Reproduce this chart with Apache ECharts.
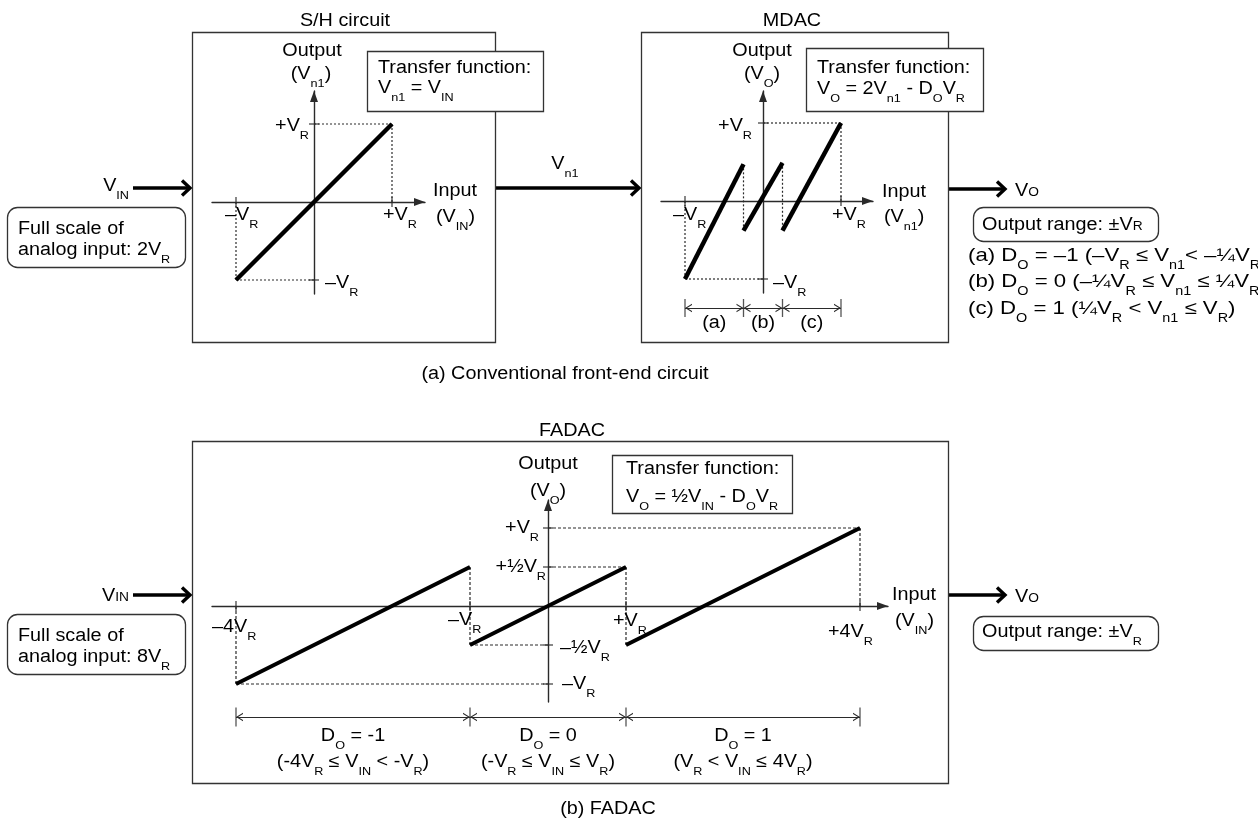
<!DOCTYPE html>
<html><head><meta charset="utf-8">
<script src="https://cdn.jsdelivr.net/npm/echarts@6/dist/echarts.min.js"></script>
<style>html,body{margin:0;padding:0;background:#fff}#c{width:1258px;height:820px}</style>
</head><body><div id="c"></div>
<script>
// ================= DATA (values in units of V_R) =================
// S/H circuit: V_n1 = V_IN
const shTransfer = [[-1, -1], [1, 1]];
const shGuides = [
  [[-1, -1], [-1, 0]], [[-1, -1], [0, -1]],
  [[1, 1], [0, 1]], [[1, 1], [1, 0]]
];
const shXTicks = [-1, 1];
const shXTickLabels = ['–V_{R}', '+V_{R}'];
const shYTicks = [-1, 1];
const shYTickLabels = ['–V_{R}', '+V_{R}'];

// MDAC: V_O = 2 V_n1 - D_O V_R
const mdacSegments = [
  [[-1, -1], [-0.25, 0.47]],
  [[-0.25, -0.38], [0.25, 0.49]],
  [[0.25, -0.38], [1, 1]]
];
const mdacGuides = [
  [[-1, -1], [-1, 0]], [[-1, -1], [0, -1]],
  [[1, 1], [0, 1]], [[1, 1], [1, 0]],
  [[-0.25, 0.47], [-0.25, -0.38]], [[0.25, 0.49], [0.25, -0.38]]
];
const mdacXTicks = [-1, 1];
const mdacXTickLabels = ['–V_{R}', '+V_{R}'];
const mdacYTicks = [-1, 1];
const mdacYTickLabels = ['–V_{R}', '+V_{R}'];
const mdacBreaks = [-1, -0.25, 0.25, 1];
const mdacRegionLabels = ['(a)', '(b)', '(c)'];
const mdacCodeLines = [
  '(a) D_{O} = –1 (–V_{R} ≤ V_{n1}< –¼V_{R})',
  '(b) D_{O} = 0 (–¼V_{R} ≤ V_{n1} ≤ ¼V_{R})',
  '(c) D_{O} = 1 (¼V_{R} < V_{n1} ≤ V_{R})'
];

// FADAC: V_O = 1/2 V_IN - D_O V_R
const fadacSegments = [
  [[-4, -1], [-1, 0.5]],
  [[-1, -0.5], [1, 0.5]],
  [[1, -0.5], [4, 1]]
];
const fadacGuides = [
  [[-4, -1], [-4, 0]], [[-4, -1], [0, -1]],
  [[-1, 0.5], [-1, -0.5]], [[-1, -0.5], [0, -0.5]],
  [[0, 0.5], [1, 0.5]], [[1, 0.5], [1, -0.5]],
  [[0, 1], [4, 1]], [[4, 1], [4, 0]]
];
const fadacXTicks = [-4, -1, 1, 4];
const fadacXTickLabels = ['–4V_{R}', '–V_{R}', '+V_{R}', '+4V_{R}'];
const fadacYTicks = [-1, -0.5, 0.5, 1];
const fadacYTickLabels = ['–V_{R}', '–½V_{R}', '+½V_{R}', '+V_{R}'];
const fadacBreaks = [-4, -1, 1, 4];
const fadacCodeLabels = ['D_{O} = -1', 'D_{O} = 0', 'D_{O} = 1'];
const fadacRangeLabels = ['(-4V_{R} ≤ V_{IN} < -V_{R})', '(-V_{R} ≤ V_{IN} ≤ V_{R})', '(V_{R} < V_{IN} ≤ 4V_{R})'];

// ================= LAYOUT =================
const P = {
  sh: {ox: 314, oy: 202, u: 78, x0: 212, x1: 425, y0: 91, y1: 294},
  md: {ox: 763, oy: 201, u: 78, x0: 661, x1: 873, y0: 91, y1: 293},
  fa: {ox: 548, oy: 606, u: 78, x0: 212, x1: 888, y0: 500, y1: 702}
};
const DIM = {md: 308, fa: 717};
const FONT = '"Liberation Sans", Arial, Helvetica, sans-serif';
const INK = '#000', LINE = '#2a2a2a';

function gridOf(p) { return {left: p.x0, top: p.y0, width: p.x1 - p.x0, height: p.y1 - p.y0, containLabel: false, outerBoundsMode: 'none'}; }
function dimGrid(p, yc) { return {left: p.x0, top: yc - 10, width: p.x1 - p.x0, height: 20, containLabel: false, outerBoundsMode: 'none'}; }
function xr(p) { return [(p.x0 - p.ox) / p.u, (p.x1 - p.ox) / p.u]; }
function yr(p) { return [(p.oy - p.y1) / p.u, (p.oy - p.y0) / p.u]; }
function axisOpt(idx, range, show) {
  return {
    type: 'value', gridIndex: idx, min: range[0], max: range[1], show: show, silent: true,
    axisLine: {show: true, onZero: true, symbol: ['none', 'triangle'], symbolSize: [8, 11], symbolOffset: [0, -5.5], lineStyle: {color: LINE, width: 1.4}},
    axisTick: {show: false}, axisLabel: {show: false}, splitLine: {show: false}
  };
}
function segSeries(g, data, width) {
  return {type: 'line', xAxisIndex: g, yAxisIndex: g, data: data, symbol: 'none', silent: true, clip: false, z: 4,
    lineStyle: {color: INK, width: width, cap: 'butt'}};
}
function guideSeries(g, data, dash) {
  return {type: 'line', xAxisIndex: g, yAxisIndex: g, data: data, symbol: 'none', silent: true, clip: false, z: 2,
    lineStyle: {color: LINE, width: 1.2, type: dash}};
}
function tickSeries(g, pts, size) {
  return {type: 'scatter', xAxisIndex: g, yAxisIndex: g, data: pts, symbol: 'rect', symbolSize: size, silent: true, clip: false, z: 3,
    itemStyle: {color: LINE}};
}
const CHEV = 'path://M0,0L0.01,0L0.01,0.01Z M14,0L13.99,0L13.99,0.01Z M7,7 L11.3,14 L10.1,14 L7,9.1 L3.9,14 L2.7,14 Z';
function dimSeries(g, breaks, barH) {
  const pairs = [];
  for (let i = 0; i < breaks.length - 1; i++) pairs.push([{coord: [breaks[i], 0]}, {coord: [breaks[i + 1], 0]}]);
  return {type: 'scatter', xAxisIndex: g, yAxisIndex: g, data: breaks.map(b => [b, 0]), symbol: 'rect', symbolSize: [1.3, barH],
    silent: true, clip: false, itemStyle: {color: LINE},
    markLine: {silent: true, symbol: [CHEV, CHEV], symbolSize: 14, precision: 4, animation: false,
      label: {show: false}, emphasis: {disabled: true}, lineStyle: {color: LINE, width: 1.2, type: 'solid'}, data: pairs}};
}

const series = [];
// S/H (grid 0)
series.push(segSeries(0, shTransfer, 4.5));
shGuides.forEach(g => series.push(guideSeries(0, g, [2, 2])));
series.push(tickSeries(0, shXTicks.map(x => [x, 0]), [1.4, 10]));
series.push(tickSeries(0, shYTicks.map(y => [0, y]), [10, 1.4]));
// MDAC (grid 1)
mdacSegments.forEach(s => series.push(segSeries(1, s, 4.5)));
mdacGuides.forEach(g => series.push(guideSeries(1, g, [2, 2])));
series.push(tickSeries(1, mdacXTicks.map(x => [x, 0]), [1.4, 10]));
series.push(tickSeries(1, mdacYTicks.map(y => [0, y]), [10, 1.4]));
// FADAC (grid 2)
fadacSegments.forEach(s => series.push(segSeries(2, s, 4)));
fadacGuides.forEach(g => series.push(guideSeries(2, g, [3, 2])));
series.push(tickSeries(2, fadacXTicks.map(x => [x, 0]), [1.4, 10]));
series.push(tickSeries(2, fadacYTicks.map(y => [0, y]), [10, 1.4]));
// dimension lines (grids 3, 4)
series.push(dimSeries(3, mdacBreaks, 18));
series.push(dimSeries(4, fadacBreaks, 19));

const chart = echarts.init(document.getElementById('c'), null, {renderer: 'canvas'});
chart.setOption({
  animation: false,
  backgroundColor: '#fff',
  grid: [gridOf(P.sh), gridOf(P.md), gridOf(P.fa), dimGrid(P.md, DIM.md), dimGrid(P.fa, DIM.fa)],
  xAxis: [axisOpt(0, xr(P.sh), true), axisOpt(1, xr(P.md), true), axisOpt(2, xr(P.fa), true),
          axisOpt(3, xr(P.md), false), axisOpt(4, xr(P.fa), false)],
  yAxis: [axisOpt(0, yr(P.sh), true), axisOpt(1, yr(P.md), true), axisOpt(2, yr(P.fa), true),
          axisOpt(3, [-1, 1], false), axisOpt(4, [-1, 1], false)],
  series: series
});

// ================= TEXT HELPERS =================
const mctx = document.createElement('canvas').getContext('2d');
function tw(t, s) { mctx.font = s + 'px ' + FONT; return mctx.measureText(t).width; }
function parseRich(str) {
  const out = []; let buf = ''; let i = 0;
  while (i < str.length) {
    if ((str[i] === '_' || str[i] === '~') && str[i + 1] === '{') {
      if (buf) { out.push({t: buf, k: 'n'}); buf = ''; }
      const j = str.indexOf('}', i);
      out.push({t: str.slice(i + 2, j), k: str[i] === '_' ? 's' : 'c'});
      i = j + 1;
    } else { buf += str[i]; i++; }
  }
  if (buf) out.push({t: buf, k: 'n'});
  return out;
}
function label(str, x, base, align, opt) {
  opt = opt || {};
  const size = opt.size || 18, sub = opt.sub || 11.5, small = opt.small || 12.5, sx = opt.sx || 1.1;
  const toks = parseRich(str).map(tk => {
    const s = tk.k === 'n' ? size : (tk.k === 's' ? sub : small);
    return {t: tk.t, s: s, dy: tk.k === 's' ? 7.5 : 0, w: tw(tk.t, s)};
  });
  const total = toks.reduce((a, b) => a + b.w, 0);
  let cx = align === 'center' ? -total / 2 : (align === 'right' ? -total : 0);
  const children = toks.map(tk => {
    const el = {type: 'text', x: cx, y: base + tk.dy - 0.3465 * tk.s, silent: true, z: 20,
      style: {text: tk.t, font: tk.s + 'px ' + FONT, fill: INK, textAlign: 'left', textVerticalAlign: 'middle', align: 'left', verticalAlign: 'middle'}};
    cx += tk.w;
    return el;
  });
  return {type: 'group', x: x, y: 0, scaleX: sx, scaleY: 1, silent: true, children: children, z: 20};
}
function box(x, y, w, h, r, fill) {
  return {type: 'rect', shape: {x: x + 0.5, y: y + 0.5, width: w, height: h, r: r || 0}, silent: true, z: fill ? 5 : 1,
    style: {fill: fill || 'none', stroke: '#333', lineWidth: 1.3}};
}
function bigArrow(x0, x1, y) {
  return [
    {type: 'line', shape: {x1: x0, y1: y, x2: x1 - 1.5, y2: y}, silent: true, style: {stroke: INK, lineWidth: 3.6}},
    {type: 'polyline', shape: {points: [[x1 - 9, y - 7.5], [x1 - 1, y], [x1 - 9, y + 7.5]]}, silent: true,
      style: {stroke: INK, lineWidth: 3.4, fill: null, lineJoin: 'miter'}}
  ];
}
function px(g, xy) { return chart.convertToPixel({gridIndex: g}, xy); }
function tickLabel(g, xy, text, dx, dy, align) { const p = px(g, xy); return label(text, p[0] + dx, p[1] + dy, align); }

const G = [];
// ---- panel boxes ----
G.push(box(192, 32, 303, 310));
G.push(box(641, 32, 307, 310));
G.push(box(192, 441, 756, 342));
// ---- S/H ----
G.push(label('S/H circuit', 345, 27, 'center'));
G.push(label('Output', 312, 57, 'center'));
G.push(label('(V_{n1})', 311, 80, 'center'));
G.push(label('Input', 433, 197, 'left'));
G.push(label('(V_{IN})', 436, 223, 'left'));
G.push(tickLabel(0, [shXTicks[0], 0], shXTickLabels[0], -11, 19, 'left'));
G.push(tickLabel(0, [shXTicks[1], 0], shXTickLabels[1], -9, 19, 'left'));
G.push(tickLabel(0, [0, shYTicks[1]], shYTickLabels[1], -5, 8, 'right'));
G.push(tickLabel(0, [0, shYTicks[0]], shYTickLabels[0], 11, 9, 'left'));
G.push(box(367, 51, 176, 60, 0, '#fff'));
G.push(label('Transfer function:', 378, 74, 'left'));
G.push(label('V_{n1} = V_{IN}', 378, 94, 'left'));
// ---- MDAC ----
G.push(label('MDAC', 792, 27, 'center'));
G.push(label('Output', 762, 57, 'center'));
G.push(label('(V_{O})', 762, 80, 'center'));
G.push(label('Input', 882, 198, 'left'));
G.push(label('(V_{n1})', 884, 223, 'left'));
G.push(tickLabel(1, [mdacXTicks[0], 0], mdacXTickLabels[0], -12, 20, 'left'));
G.push(tickLabel(1, [mdacXTicks[1], 0], mdacXTickLabels[1], -9, 20, 'left'));
G.push(tickLabel(1, [0, mdacYTicks[1]], mdacYTickLabels[1], -11, 9, 'right'));
G.push(tickLabel(1, [0, mdacYTicks[0]], mdacYTickLabels[0], 10, 10, 'left'));
for (let i = 0; i < mdacRegionLabels.length; i++) {
  G.push(tickLabel(3, [(mdacBreaks[i] + mdacBreaks[i + 1]) / 2, 0], mdacRegionLabels[i], 0, 21, 'center'));
}
G.push(box(806, 48, 177, 63, 0, '#fff'));
G.push(label('Transfer function:', 817, 74, 'left'));
G.push(label('V_{O} = 2V_{n1} - D_{O}V_{R}', 817, 95, 'left'));
// ---- connectors (a) ----
G.push(label('V_{IN}', 129, 192, 'right'));
G.push(...bigArrow(133, 191, 188));
G.push(box(7, 207, 178, 60, 10));
G.push(label('Full scale of', 18, 235, 'left'));
G.push(label('analog input: 2V_{R}', 18, 256, 'left'));
G.push(label('V_{n1}', 565, 170, 'center'));
G.push(...bigArrow(495, 640, 188));
G.push(...bigArrow(948, 1006, 189));
G.push(label('V~{O}', 1015, 197, 'left'));
G.push(box(973, 207, 185, 34, 10));
G.push(label('Output range: ±V~{R}', 982, 231, 'left'));
const listBase = [262, 288, 315];
mdacCodeLines.forEach((t, i) => G.push(label(t, 968, listBase[i], 'left', {size: 18.5, sub: 12, sx: 1.2})));
G.push(label('(a) Conventional front-end circuit', 565, 380, 'center'));
// ---- FADAC ----
G.push(label('FADAC', 572, 437, 'center'));
G.push(label('Output', 548, 470, 'center'));
G.push(label('(V_{O})', 548, 497, 'center'));
G.push(label('Input', 892, 601, 'left'));
G.push(label('(V_{IN})', 895, 627, 'left'));
const fxo = [[-24, 27], [-22, 20], [-13, 21], [-32, 32]];
fadacXTicks.forEach((x, i) => G.push(tickLabel(2, [x, 0], fadacXTickLabels[i], fxo[i][0], fxo[i][1], 'left')));
const fyo = [[14, 6, 'left'], [12, 9, 'left'], [-2, 6, 'right'], [-9, 6, 'right']];
fadacYTicks.forEach((y, i) => G.push(tickLabel(2, [0, y], fadacYTickLabels[i], fyo[i][0], fyo[i][1], fyo[i][2])));
for (let i = 0; i < fadacCodeLabels.length; i++) {
  const mid = (fadacBreaks[i] + fadacBreaks[i + 1]) / 2;
  G.push(tickLabel(4, [mid, 0], fadacCodeLabels[i], 0, 25, 'center'));
  G.push(tickLabel(4, [mid, 0], fadacRangeLabels[i], 0, 51, 'center'));
}
G.push(box(612, 455, 180, 58, 0, '#fff'));
G.push(label('Transfer function:', 626, 475, 'left'));
G.push(label('V_{O} = ½V_{IN} - D_{O}V_{R}', 626, 503, 'left'));
// ---- connectors (b) ----
G.push(label('V~{IN}', 129, 602, 'right'));
G.push(...bigArrow(133, 191, 595));
G.push(box(7, 614, 178, 60, 10));
G.push(label('Full scale of', 18, 642, 'left'));
G.push(label('analog input: 8V_{R}', 18, 663, 'left'));
G.push(...bigArrow(948, 1006, 595));
G.push(label('V~{O}', 1015, 603, 'left'));
G.push(box(973, 616, 185, 34, 10));
G.push(label('Output range: ±V_{R}', 982, 638, 'left'));
G.push(label('(b) FADAC', 608, 815, 'center'));

chart.setOption({graphic: {elements: G}});
</script>
</body></html>
